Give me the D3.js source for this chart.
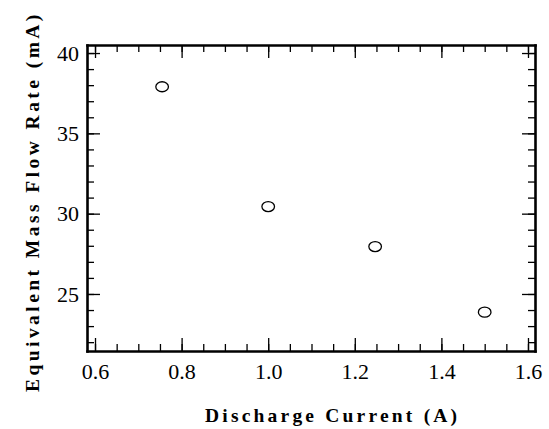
<!DOCTYPE html>
<html>
<head>
<meta charset="utf-8">
<script src="https://cdn.jsdelivr.net/npm/d3@7"></script>
<style>
body { margin: 0; background: #fff; }
.axis text { font-family: "Liberation Serif", "Times New Roman", serif; font-size: 22px; fill: #000; }
.axis line { stroke: #000; stroke-width: 1.3; }
.axis path { stroke: #000; stroke-width: 2.6; stroke-linecap: square; }
.title { font-family: "Liberation Serif", "Times New Roman", serif; font-weight: bold; font-size: 19.5px; fill: #000; }
</style>
</head>
<body>
<div id="chart"></div>
<script>
var current = [0.755, 1.0, 1.247, 1.5];
var flowRate = [37.9, 30.44, 27.95, 23.87];
var xTicks = [0.6, 0.8, 1.0, 1.2, 1.4, 1.6];
var yTicks = [25, 30, 35, 40];
var xLabel = "Discharge Current (A)";
var yLabel = "Equivalent Mass Flow Rate (mA)";

var fullWidth = 549;
var fullHeight = 429;
var frame = {left: 87, right: 535, top: 45, bottom: 351};
var major = 13, minor = 7;

var x = d3.scaleLinear().domain([0.5815, 1.6162]).range([frame.left, frame.right]);
var y = d3.scaleLinear().domain([21.45, 40.5]).range([frame.bottom, frame.top]);

var svg = d3.select("#chart")
  .append("svg")
    .attr("width", fullWidth)
    .attr("height", fullHeight);

// minor ticks first, on all four sides, pointing inward
function minorAxis(axis, transform) {
  svg.append("g")
    .attr("class", "axis")
    .attr("transform", transform)
    .call(axis.tickSizeInner(-minor).tickSizeOuter(0).tickFormat(""))
    .select(".domain").remove();
}
minorAxis(d3.axisBottom(x).tickValues(x.ticks(20)), "translate(0," + frame.bottom + ")");
minorAxis(d3.axisTop(x).tickValues(x.ticks(20)), "translate(0," + frame.top + ")");
minorAxis(d3.axisLeft(y).tickValues(y.ticks(19)), "translate(" + frame.left + ",0)");
minorAxis(d3.axisRight(y).tickValues(y.ticks(19)), "translate(" + frame.right + ",0)");

// major ticks + frame lines
svg.append("g")
  .attr("class", "axis")
  .attr("transform", "translate(0," + frame.bottom + ")")
  .call(d3.axisBottom(x).tickValues(xTicks).tickSizeInner(-major).tickSizeOuter(0)
    .tickPadding(12).tickFormat(d3.format(".1f")));

svg.append("g")
  .attr("class", "axis")
  .attr("transform", "translate(0," + frame.top + ")")
  .call(d3.axisTop(x).tickValues(xTicks).tickSizeInner(-major).tickSizeOuter(0).tickFormat(""));

svg.append("g")
  .attr("class", "axis")
  .attr("transform", "translate(" + frame.left + ",0)")
  .call(d3.axisLeft(y).tickValues(yTicks).tickSizeInner(-major).tickSizeOuter(0)
    .tickPadding(8).tickFormat(d3.format("d")));

svg.append("g")
  .attr("class", "axis")
  .attr("transform", "translate(" + frame.right + ",0)")
  .call(d3.axisRight(y).tickValues(yTicks).tickSizeInner(-major).tickSizeOuter(0).tickFormat(""));

// open circle markers
svg.selectAll(".pt")
  .data(current)
  .enter().append("ellipse")
    .attr("class", "pt")
    .attr("cx", function(d) { return x(d); })
    .attr("cy", function(d, i) { return y(flowRate[i]); })
    .attr("rx", 6.3)
    .attr("ry", 5)
    .attr("fill", "none")
    .attr("stroke", "#000")
    .attr("stroke-width", 1.3);

svg.append("text")
  .attr("class", "title")
  .attr("x", 205)
  .attr("y", 422)
  .attr("letter-spacing", 3.2)
  .text(xLabel);

svg.append("text")
  .attr("class", "title")
  .attr("transform", "translate(39,392) rotate(-90)")
  .attr("letter-spacing", 3.45)
  .text(yLabel);
</script>
</body>
</html>
